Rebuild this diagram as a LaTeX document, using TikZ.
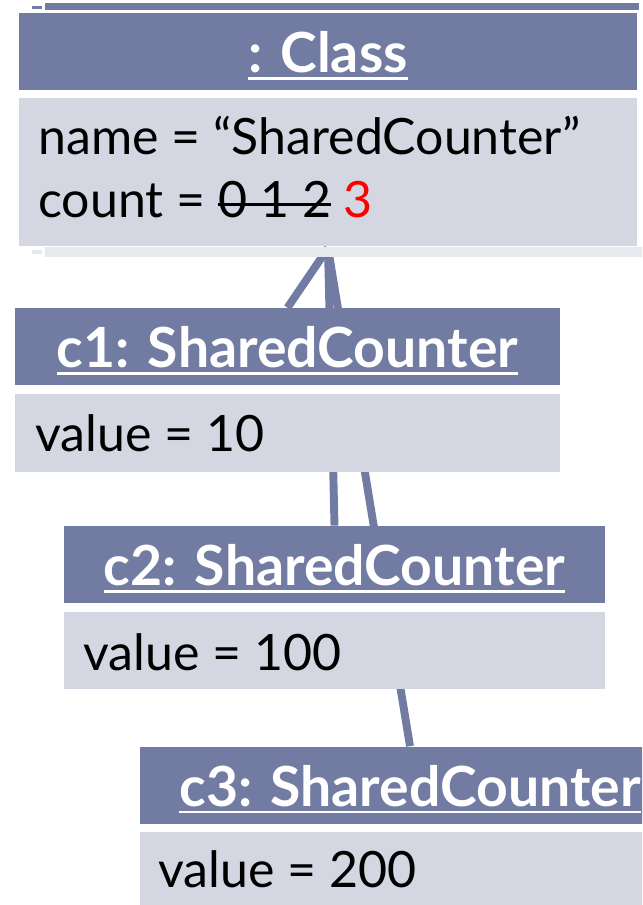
\documentclass[tikz,border=0pt]{standalone}
\usepackage{fontspec}
\setmainfont{Lato}
\usetikzlibrary{backgrounds}
\definecolor{hdrblue}{RGB}{114,124,163}
\definecolor{bodygray}{RGB}{212,215,225}
\definecolor{backgray}{RGB}{232,233,238}
\newsavebox{\markbox}
% underlined bold title and struck-out old values
\newcommand{\hdrtext}[1]{\sbox{\markbox}{\bfseries #1}\rlap{\raisebox{-4.2pt}{\rule{\wd\markbox}{1.6pt}}}\usebox{\markbox}}
\newcommand{\oldval}[1]{\sbox{\markbox}{#1}\rlap{\raisebox{7pt}{\rule{\wd\markbox}{1.3pt}}}\usebox{\markbox}}
\tikzset{
	objhead/.style = {shape=rectangle, fill=hdrblue, text=white, inner sep=0pt, minimum height=1.54cm, text height=0.84cm, text depth=0pt, font=\fontsize{31.5}{36}\selectfont},
	objbody/.style = {shape=rectangle, fill=bodygray, inner sep=0pt},
	field/.style = {anchor=base west, inner sep=0pt, font=\fontsize{28.5}{34}\selectfont},
	link/.style = {draw=hdrblue, line width=4.5pt},
}

\begin{document}
\begin{tikzpicture}[x=0.02cm, y=-0.02cm]
		\useasboundingbox (0,0) rectangle (642,905);
		\clip (0,0) rectangle (642,905);

		% stacked copies behind the class object
		\fill[hdrblue] (32,6) rectangle (42,9);
		\fill[backgray] (32,250) rectangle (42,254);
		\fill[hdrblue] (45,3) rectangle (639,10);
		\fill[backgray] (45,247) rectangle (660,257);

		% class object
		\node[objhead, minimum width=12.36cm] (cls-head) at (328,51.5) {\hdrtext{: Class}};
		\node[objbody, minimum width=12.36cm, minimum height=2.96cm] (cls-body) at (328,172) {};
		\node[field] (cls-name) at (38,155) {name = “SharedCounter”};
		\node[field] (cls-count) at (38,218) {count = \oldval{0 1 2} \textcolor{red}{3}};

		% instances
		\node[objhead, minimum width=10.9cm] (c1-head) at (287.5,346.5) {\hdrtext{c1: SharedCounter}};
		\node[objbody, minimum width=10.9cm, minimum height=1.56cm] (c1-body) at (287.5,433) {};
		\node[field] (c1-value) at (35,451) {value = 10};

		\node[objhead, minimum width=10.82cm] (c2-head) at (334.5,564.5) {\hdrtext{c2: SharedCounter}};
		\node[objbody, minimum width=10.82cm, minimum height=1.54cm] (c2-body) at (334.5,650.5) {};
		\node[field] (c2-value) at (83,670) {value = 100};

		\node[objhead, minimum width=10.82cm] (c3-head) at (410,785) {\hdrtext{c3: SharedCounter}};
		\node[objbody, minimum width=10.82cm, minimum height=1.56cm] (c3-body) at (410,871) {};
		\node[field] (c3-value) at (158,887) {value = 200};

		% white gap between title bar and attribute part
		\foreach \obj in {cls, c1, c2, c3}
			\fill[white] (\obj-head.south west) rectangle (\obj-body.north east);

		\coordinate (cls-tip) at ([yshift=-1pt]cls-body.south);

		\begin{scope}[on background layer]
			\draw[link] (c1-head.north) -- (cls-tip);
			\draw[link] (c2-head.north) -- (cls-tip);
			\draw[link] (c3-head.north) -- (cls-tip);
		\end{scope}
	\end{tikzpicture}
\end{document}
